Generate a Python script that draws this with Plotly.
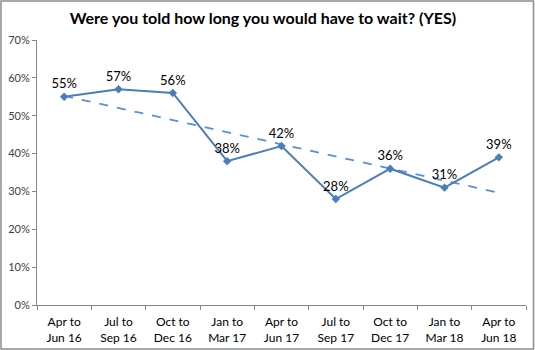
import numpy as np
import plotly.graph_objects as go

# Quarterly share of "YES" answers
periods = ["Apr to<br>Jun 16", "Jul to<br>Sep 16", "Oct to<br>Dec 16", "Jan to<br>Mar 17",
           "Apr to<br>Jun 17", "Jul to<br>Sep 17", "Oct to<br>Dec 17", "Jan to<br>Mar 18",
           "Apr to<br>Jun 18"]
yes_share = [0.55, 0.57, 0.56, 0.38, 0.42, 0.28, 0.36, 0.31, 0.39]
y_ticks = [0, 0.1, 0.2, 0.3, 0.4, 0.5, 0.6, 0.7]

W, H = 535, 350
L, R, T, B = 37, 9, 40, 45
pw, ph = W - L - R, H - T - B

line_color = "#4a7ebb"
font_family = "Lato, Open Sans, sans-serif"

# Linear trend over the series
idx = np.arange(len(yes_share))
slope, intercept = np.polyfit(idx, yes_share, 1)
trend = slope * idx + intercept

fig = go.Figure()
fig.add_trace(go.Scatter(
    x=periods, y=trend, mode="lines",
    line=dict(color="#5b8fd6", width=1.8, dash="dash"),
    hoverinfo="skip", showlegend=False,
))
fig.add_trace(go.Scatter(
    x=periods, y=yes_share, mode="lines+markers+text",
    line=dict(color=line_color, width=2),
    marker=dict(symbol="diamond", size=6.5, color=line_color),
    text=[f"{round(v * 100)}%" for v in yes_share],
    textposition="top center",
    textfont=dict(family=font_family, size=13, color="#000000"),
    showlegend=False,
))

# Outer frame around the whole chart
fig.add_shape(
    type="rect", xref="paper", yref="paper",
    x0=(1 - L) / pw, x1=(W - 1.5 - L) / pw,
    y0=-(H - 1 - T - ph) / ph, y1=(T - 1) / ph + 1,
    line=dict(color="#8c8c8c", width=1.5), fillcolor="rgba(0,0,0,0)",
    layer="below",
)

fig.update_layout(
    width=W, height=H,
    margin=dict(l=L, r=R, t=T, b=B, autoexpand=False),
    paper_bgcolor="white", plot_bgcolor="white",
    title=dict(
        text="<b>Were you told how long you would have to wait? (YES)</b>",
        x=263 / W, xref="container", xanchor="center",
        y=1 - 18 / H, yanchor="middle",
        font=dict(family=font_family, size=16, color="#000000"),
    ),
    font=dict(family=font_family, size=11, color="#404040"),
)
fig.update_xaxes(
    type="category", range=[-0.5, len(periods) - 0.5],
    automargin=False,
    showline=True, linecolor="#868686", linewidth=1,
    ticks="outside", tickson="boundaries", ticklen=4, tickcolor="#868686",
    showgrid=False, zeroline=False,
    ticklabelstandoff=6,
    tickfont=dict(size=12, color="#000000"),
)
fig.update_yaxes(
    range=[0, 0.7], tickvals=y_ticks, tickformat=".0%",
    automargin=False,
    showline=True, linecolor="#868686", linewidth=1,
    ticks="outside", ticklen=4, tickcolor="#868686",
    showgrid=False, zeroline=False,
    tickfont=dict(size=11, color="#404040"),
)

fig.write_html("out.html")
